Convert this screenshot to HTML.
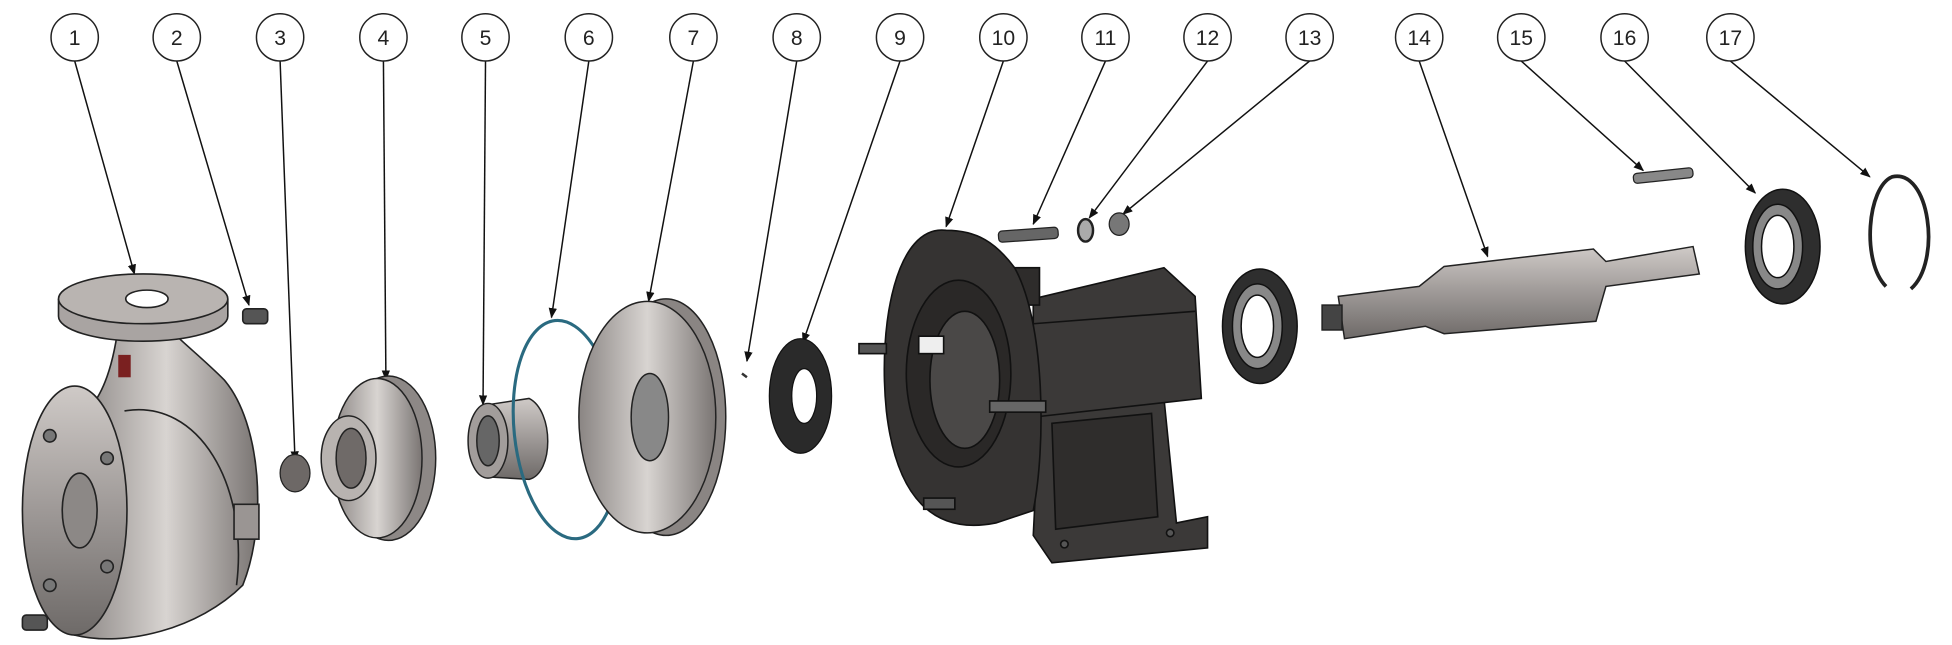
<!DOCTYPE html>
<html><head><meta charset="utf-8"><style>
html,body{margin:0;padding:0;background:#fff;width:1952px;height:645px;overflow:hidden}
svg{display:block}
text{font-family:"Liberation Sans",sans-serif;font-size:17px;fill:#222;text-anchor:middle}
</style></head><body>
<svg width="1952" height="645" viewBox="0 0 1568 518" preserveAspectRatio="none">
<defs>
<marker id="a" viewBox="0 0 10 10" refX="9" refY="5" markerWidth="7" markerHeight="7" orient="auto"><path d="M0,1 L10,5 L0,9 z" fill="#111"/></marker>
<linearGradient id="g" x1="0" y1="0" x2="1" y2="0"><stop offset="0" stop-color="#8a8583"/><stop offset=".5" stop-color="#d8d4d1"/><stop offset="1" stop-color="#7a7573"/></linearGradient>
<linearGradient id="gv" x1="0" y1="0" x2="0" y2="1"><stop offset="0" stop-color="#cfcac7"/><stop offset=".5" stop-color="#9e9997"/><stop offset="1" stop-color="#6e6a68"/></linearGradient>
</defs>
<g stroke="#111" stroke-width="1.2" fill="none" marker-end="url(#a)">
<line x1="60" y1="49" x2="108" y2="220"/>
<line x1="142" y1="49" x2="200" y2="245"/>
<line x1="225" y1="49" x2="237" y2="370"/>
<line x1="308" y1="49" x2="310" y2="305"/>
<line x1="390" y1="49" x2="388" y2="325"/>
<line x1="473" y1="49" x2="443" y2="255"/>
<line x1="557" y1="49" x2="521" y2="242"/>
<line x1="640" y1="49" x2="600" y2="290"/>
<line x1="723" y1="49" x2="645" y2="275"/>
<line x1="806" y1="49" x2="760" y2="182"/>
<line x1="888" y1="49" x2="830" y2="180"/>
<line x1="970" y1="49" x2="875" y2="175"/>
<line x1="1052" y1="49" x2="902" y2="172"/>
<line x1="1140" y1="49" x2="1195" y2="206"/>
<line x1="1222" y1="49" x2="1320" y2="137"/>
<line x1="1305" y1="49" x2="1410" y2="155"/>
<line x1="1390" y1="49" x2="1502" y2="142"/>
</g>
<g stroke="#222" stroke-width="1.2" fill="#fff">
<circle cx="60" cy="30" r="19"/><circle cx="142" cy="30" r="19"/><circle cx="225" cy="30" r="19"/><circle cx="308" cy="30" r="19"/><circle cx="390" cy="30" r="19"/><circle cx="473" cy="30" r="19"/><circle cx="557" cy="30" r="19"/><circle cx="640" cy="30" r="19"/><circle cx="723" cy="30" r="19"/><circle cx="806" cy="30" r="19"/><circle cx="888" cy="30" r="19"/><circle cx="970" cy="30" r="19"/><circle cx="1052" cy="30" r="19"/><circle cx="1140" cy="30" r="19"/><circle cx="1222" cy="30" r="19"/><circle cx="1305" cy="30" r="19"/><circle cx="1390" cy="30" r="19"/>
</g>
<g>
<text x="60" y="36">1</text><text x="142" y="36">2</text><text x="225" y="36">3</text><text x="308" y="36">4</text><text x="390" y="36">5</text><text x="473" y="36">6</text><text x="557" y="36">7</text><text x="640" y="36">8</text><text x="723" y="36">9</text><text x="806" y="36">10</text><text x="888" y="36">11</text><text x="970" y="36">12</text><text x="1052" y="36">13</text><text x="1140" y="36">14</text><text x="1222" y="36">15</text><text x="1305" y="36">16</text><text x="1390" y="36">17</text>
</g>
<g stroke="#222" stroke-width="1.3">
<path d="M95,262 C90,300 80,320 70,330 L60,510 C100,520 160,505 195,470 C215,420 210,340 180,305 C160,285 140,270 135,262 z" fill="url(#g)"/>
<path d="M100,330 C160,320 200,390 190,470" fill="none"/>
<rect x="188" y="405" width="20" height="28" fill="#9a9593"/>
<ellipse cx="60" cy="410" rx="42" ry="100" fill="url(#gv)"/>
<ellipse cx="64" cy="410" rx="14" ry="30" fill="#8c8886"/>
<circle cx="40" cy="350" r="5" fill="#777"/><circle cx="86" cy="368" r="5" fill="#777"/><circle cx="40" cy="470" r="5" fill="#777"/><circle cx="86" cy="455" r="5" fill="#777"/>
<path d="M47,240 v14 a68,20 0 0 0 136,0 v-14" fill="#a9a4a2"/>
<ellipse cx="115" cy="240" rx="68" ry="20" fill="#b9b4b1"/>
<ellipse cx="118" cy="240" rx="17" ry="7" fill="#fff"/>
<rect x="95" y="285" width="10" height="18" fill="#7a2020" stroke="none"/>
<rect x="195" y="248" width="20" height="12" rx="3" fill="#555"/>
<rect x="18" y="494" width="20" height="12" rx="3" fill="#555"/>
</g>
<ellipse cx="237" cy="380" rx="12" ry="15" fill="#6d6866" stroke="#222"/>
<g stroke="#222" stroke-width="1.2">
<ellipse cx="312" cy="368" rx="38" ry="66" fill="#8d8886"/>
<ellipse cx="303" cy="368" rx="36" ry="64" fill="url(#g)"/>
<ellipse cx="280" cy="368" rx="22" ry="34" fill="#b8b3b0"/>
<ellipse cx="282" cy="368" rx="12" ry="24" fill="#6f6a68"/>
</g>
<g stroke="#222" stroke-width="1.2">
<path d="M392,325 L425,320 C445,330 445,380 425,385 L392,383 z" fill="url(#gv)"/>
<ellipse cx="392" cy="354" rx="16" ry="30" fill="#a29d9b"/>
<ellipse cx="392" cy="354" rx="9" ry="20" fill="#666"/>
</g>
<ellipse cx="455" cy="345" rx="42" ry="88" fill="none" stroke="#2a6a80" stroke-width="2.5" transform="rotate(-6 455 345)"/>
<g stroke="#222" stroke-width="1.2">
<ellipse cx="535" cy="335" rx="48" ry="95" fill="#8a8583"/>
<ellipse cx="520" cy="335" rx="55" ry="93" fill="url(#g)"/>
<ellipse cx="522" cy="335" rx="15" ry="35" fill="#888"/>
</g>
<line x1="596" y1="300" x2="600" y2="303" stroke="#333" stroke-width="2"/>
<ellipse cx="643" cy="318" rx="25" ry="46" fill="#2a2a2a" stroke="#111"/>
<ellipse cx="646" cy="318" rx="10" ry="22" fill="#fff" stroke="#111"/>
<!-- 10 bracket -->
<g stroke="#111" stroke-width="1.3" fill="#3b3938">
<path d="M835,330 L935,320 L945,420 L970,415 L970,440 L845,452 L830,430 z"/>
<path d="M845,340 L925,332 L930,415 L848,425 z" fill="#2f2d2c"/>
<path d="M830,240 L935,215 L960,238 L965,320 L830,335 z"/>
<path d="M830,260 L960,250" fill="none"/>
<rect x="815" y="215" width="20" height="30" fill="#2e2c2b"/>
<path d="M760,185 C720,180 705,260 712,330 C720,400 750,430 800,420 L830,410 C840,360 840,260 815,215 C800,195 785,185 760,185 z" fill="#353332"/>
<ellipse cx="770" cy="300" rx="42" ry="75" fill="#2a2827"/>
<ellipse cx="775" cy="305" rx="28" ry="55" fill="#4a4847"/>
<rect x="738" y="270" width="20" height="14" fill="#eee"/>
<rect x="690" y="276" width="22" height="8" fill="#555"/>
<rect x="795" y="322" width="45" height="9" fill="#666"/>
<rect x="742" y="400" width="25" height="9" fill="#555"/>
<circle cx="855" cy="437" r="3" fill="#555"/><circle cx="940" cy="428" r="3" fill="#555"/>
</g>
<rect x="802" y="184" width="48" height="9" rx="3" fill="#666" stroke="#222" transform="rotate(-4 826 188)"/>
<ellipse cx="872" cy="185" rx="6" ry="9" fill="#aaa" stroke="#222" stroke-width="2"/>
<ellipse cx="899" cy="180" rx="8" ry="9" fill="#777" stroke="#222"/>
<g stroke="#111" stroke-width="1.2">
<ellipse cx="1012" cy="262" rx="30" ry="46" fill="#2e2e2e"/>
<ellipse cx="1010" cy="262" rx="20" ry="34" fill="#888"/>
<ellipse cx="1010" cy="262" rx="13" ry="25" fill="#fff"/>
</g>
<g stroke="#222" stroke-width="1.2">
<path d="M1075,238 L1140,230 L1160,214 L1280,200 L1290,210 L1360,198 L1365,220 L1290,230 L1282,258 L1160,268 L1145,262 L1080,272 z" fill="url(#gv)"/>
<rect x="1062" y="245" width="16" height="20" fill="#444"/>
</g>
<rect x="1312" y="137" width="48" height="8" rx="3" fill="#888" stroke="#222" transform="rotate(-6 1336 141)"/>
<g stroke="#111" stroke-width="1.2">
<ellipse cx="1432" cy="198" rx="30" ry="46" fill="#2e2e2e"/>
<ellipse cx="1428" cy="198" rx="20" ry="34" fill="#888"/>
<ellipse cx="1428" cy="198" rx="13" ry="25" fill="#fff"/>
</g>
<path d="M1515,230 C1495,210 1500,150 1520,142 C1550,135 1560,210 1535,232" fill="none" stroke="#222" stroke-width="3"/>
</svg>
</body></html>
